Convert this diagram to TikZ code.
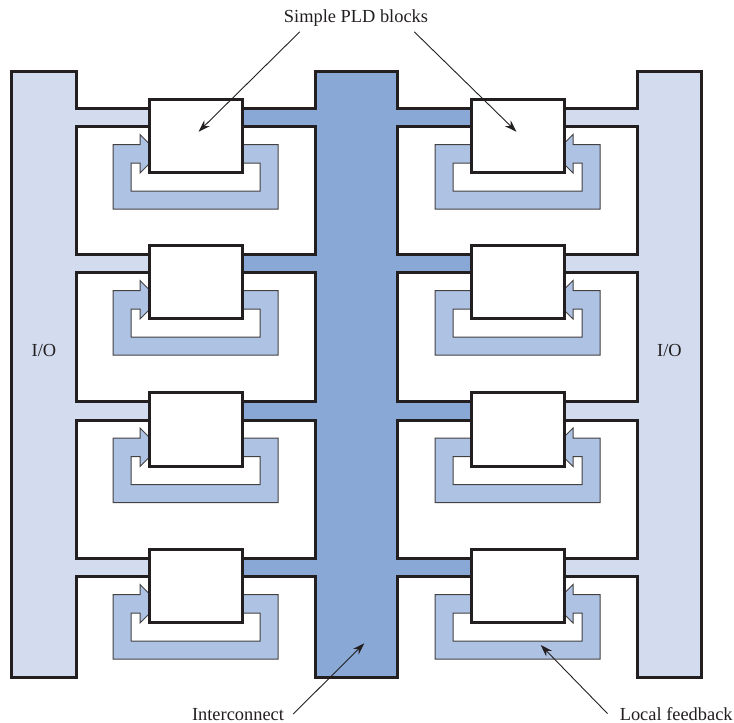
\documentclass[tikz,border=0pt]{standalone}
\usepackage{fontspec}
\setmainfont{Liberation Serif}
\usepackage{tikz}
\usetikzlibrary{arrows.meta}
\definecolor{iofill}{HTML}{D3DCEE}
\definecolor{icfill}{HTML}{89A8D6}
\definecolor{fbfill}{HTML}{AEC3E4}
\definecolor{ink}{HTML}{231F20}
\newcommand{\fbloop}[2]{%
\begin{scope}[shift={#1}, xscale=#2]
  \draw[fbband] (0,0) -- (27,0) -- (27,-10) -- (46.25,9.25) -- (27,28.5) -- (27,18.5) -- (18,18.5)
    -- (18,46.5) -- (147,46.5) -- (147,18.5) -- (110,18.5) -- (110,0) -- (165,0) -- (165,64.5) -- (0,64.5) -- cycle;
\end{scope}}

\begin{document}
\begin{tikzpicture}[x=1pt, y=-1pt,
  wall/.style={draw=ink, line width=3pt, line join=miter},
  fbband/.style={draw=ink!85, line width=1pt, fill=fbfill},
  pld/.style={rectangle, draw=ink, line width=3pt, fill=white, minimum width=93pt, minimum height=73.5pt, inner sep=0pt},
  lbl/.style={inner sep=0pt, text=ink, font=\fontsize{18.4}{21}\selectfont},
  pointer/.style={-{Stealth[length=12pt, width=8pt]}, line width=0.9pt, draw=ink}
]
\useasboundingbox (0,0) rectangle (734,723);
% I/O columns and channels
\fill[iofill] (11.7,71) -- (76,71) -- (76,108) -- (315,108) -- (315,71) -- (397.3,71) -- (397.3,108) -- (637,108) -- (637,71)
  -- (701.7,71) -- (701.7,677) -- (637,677) -- (637,576.5) -- (397.3,576.5) -- (397.3,677) -- (315,677) -- (315,576.5)
  -- (76,576.5) -- (76,677) -- (11.7,677) -- cycle;
% interconnect
\fill[icfill] (315,71) rectangle (397.3,677);
\fill[icfill] (195.5,108) rectangle (517.5,126.5);
\fill[icfill] (195.5,254) rectangle (517.5,272.5);
\fill[icfill] (195.5,401.5) rectangle (517.5,420);
\fill[icfill] (195.5,558) rectangle (517.5,576.5);
\draw[wall, fill=white] (76,126.5) rectangle (315,254);
\draw[wall, fill=white] (76,272.5) rectangle (315,401.5);
\draw[wall, fill=white] (76,420) rectangle (315,558);
\draw[wall, fill=white] (397.3,126.5) rectangle (637,254);
\draw[wall, fill=white] (397.3,272.5) rectangle (637,401.5);
\draw[wall, fill=white] (397.3,420) rectangle (637,558);
\draw[wall] (11.7,71) -- (76,71) -- (76,108) -- (315,108) -- (315,71) -- (397.3,71) -- (397.3,108) -- (637,108) -- (637,71)
  -- (701.7,71) -- (701.7,677) -- (637,677) -- (637,576.5) -- (397.3,576.5) -- (397.3,677) -- (315,677) -- (315,576.5)
  -- (76,576.5) -- (76,677) -- (11.7,677) -- cycle;
% local feedback loops
\fbloop{(113,144.5)}{1} \fbloop{(600,144.5)}{-1}
\fbloop{(113,290.5)}{1} \fbloop{(600,290.5)}{-1}
\fbloop{(113,438)}{1} \fbloop{(600,438)}{-1}
\fbloop{(113,594.5)}{1} \fbloop{(600,594.5)}{-1}
% PLD blocks
\node[pld] (pl1) at (195.5,135.75) {};
\node[pld] (pl2) at (195.5,281.75) {};
\node[pld] (pl3) at (195.5,429.25) {};
\node[pld] (pl4) at (195.5,585.75) {};
\node[pld] (pr1) at (517.5,135.75) {};
\node[pld] (pr2) at (517.5,281.75) {};
\node[pld] (pr3) at (517.5,429.25) {};
\node[pld] (pr4) at (517.5,585.75) {};
% labels
\node[lbl, anchor=base] (pldlbl) at (356,22.7) {Simple PLD blocks};
\node[lbl, anchor=base] (iol) at (43.9,356.7) {I/O};
\node[lbl, anchor=base] (ior) at (669.4,356.7) {I/O};
\node[lbl, anchor=base] (iclbl) at (238,720) {Interconnect};
\node[lbl, anchor=base] (fblbl) at (676.2,720) {Local feedback};
\coordinate (ictip) at (364.3,643.3);
\coordinate (fbtip) at (540.7,645);
\draw[pointer] ([xshift=16pt, yshift=-5pt]pldlbl.south west) -- ([xshift=3pt, yshift=4pt]pl1.center);
\draw[pointer] ([xshift=-14pt, yshift=-5pt]pldlbl.south east) -- ([xshift=-1pt, yshift=4pt]pr1.center);
\draw[pointer] ([xshift=9pt]iclbl.east) -- (ictip);
\draw[pointer] ([xshift=-12pt]fblbl.west) -- (fbtip);
\end{tikzpicture}
\end{document}
